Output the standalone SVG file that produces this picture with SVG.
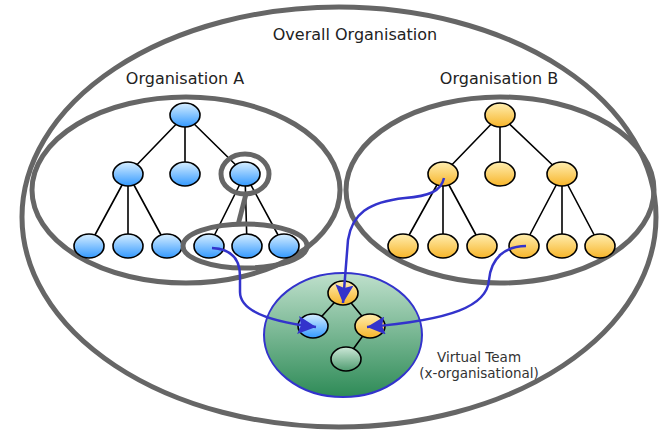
<svg xmlns="http://www.w3.org/2000/svg" width="659" height="431" viewBox="0 0 659 431">
<defs>
<linearGradient id="gB" x1="0" y1="0" x2="0" y2="1"><stop offset="0" stop-color="#d6eeff"/><stop offset="1" stop-color="#3399ff"/></linearGradient>
<linearGradient id="gO" x1="0" y1="0" x2="0" y2="1"><stop offset="0" stop-color="#ffeeb0"/><stop offset="1" stop-color="#f7b52a"/></linearGradient>
<linearGradient id="gG" x1="0" y1="0" x2="0" y2="1"><stop offset="0" stop-color="#cde8d8"/><stop offset="1" stop-color="#4f9c70"/></linearGradient>
<linearGradient id="gVT" x1="0" y1="0" x2="0" y2="1"><stop offset="0" stop-color="#bfe0cc"/><stop offset="1" stop-color="#2e8b57"/></linearGradient>
<marker id="arr" markerUnits="userSpaceOnUse" markerWidth="20" markerHeight="18" refX="18" refY="9" orient="auto"><path d="M0,0 L18,9 L0,18 L3,9 Z" fill="#3333cc"/></marker>
</defs>
<style>
.ring{fill:none;stroke:#666;stroke-width:5}
.edge{stroke:#000;stroke-width:1.6;fill:none}
.nb{fill:url(#gB);stroke:#000;stroke-width:1.6}
.no{fill:url(#gO);stroke:#000;stroke-width:1.6}
.ng{fill:url(#gG);stroke:#000;stroke-width:1.6}
.lbl{font-family:"DejaVu Sans","Verdana",sans-serif;font-size:16px;fill:#222;text-anchor:middle}
.sm{font-family:"DejaVu Sans","Verdana",sans-serif;font-size:13.5px;fill:#333;text-anchor:middle}
.conn{fill:none;stroke:#3333cc;stroke-width:2.5;marker-end:url(#arr)}
</style>
<g id="overall">
<ellipse class="ring" cx="339" cy="217" rx="317" ry="210" fill="#fff"/>
<text class="lbl" x="355" y="40">Overall Organisation</text>
</g>
<g id="orgA">
<ellipse class="ring" cx="186" cy="190" rx="154" ry="93"/>
<text class="lbl" x="185" y="84">Organisation A</text>
<path class="edge" d="M185,115 L128,174 M185,115 L185,174 M185,115 L245,174 M128,174 L89,246 M128,174 L128,246 M128,174 L167,246 M245,174 L209,246 M245,174 L247,246 M245,174 L284,246"/>
<ellipse class="nb" cx="185" cy="115" rx="15" ry="12"/>
<ellipse class="nb" cx="128" cy="174" rx="15" ry="12"/>
<ellipse class="nb" cx="185" cy="174" rx="15" ry="12"/>
<ellipse class="nb" cx="245" cy="174" rx="15" ry="12"/>
<ellipse class="nb" cx="89" cy="246" rx="15" ry="12"/>
<ellipse class="nb" cx="128" cy="246" rx="15" ry="12"/>
<ellipse class="nb" cx="167" cy="246" rx="15" ry="12"/>
<ellipse class="nb" cx="209" cy="246" rx="15" ry="12"/>
<ellipse class="nb" cx="247" cy="246" rx="15" ry="12"/>
<ellipse class="nb" cx="284" cy="246" rx="15" ry="12"/>
</g>
<g id="highlight">
<ellipse class="ring" cx="245" cy="174" rx="24" ry="20"/>
<ellipse class="ring" cx="245" cy="246" rx="62" ry="22"/>
<path d="M246,194 L238,225" stroke="#666" stroke-width="5" fill="none"/>
</g>
<g id="orgB">
<ellipse class="ring" cx="500" cy="190" rx="154" ry="93"/>
<text class="lbl" x="499" y="84">Organisation B</text>
<path class="edge" d="M500,115 L443,174 M500,115 L500,174 M500,115 L562,174 M443,174 L403,246 M443,174 L443,246 M443,174 L482,246 M562,174 L524,246 M562,174 L562,246 M562,174 L600,246"/>
<ellipse class="no" cx="500" cy="115" rx="15" ry="12"/>
<ellipse class="no" cx="443" cy="174" rx="15" ry="12"/>
<ellipse class="no" cx="500" cy="174" rx="15" ry="12"/>
<ellipse class="no" cx="562" cy="174" rx="15" ry="12"/>
<ellipse class="no" cx="403" cy="246" rx="15" ry="12"/>
<ellipse class="no" cx="443" cy="246" rx="15" ry="12"/>
<ellipse class="no" cx="482" cy="246" rx="15" ry="12"/>
<ellipse class="no" cx="524" cy="246" rx="15" ry="12"/>
<ellipse class="no" cx="562" cy="246" rx="15" ry="12"/>
<ellipse class="no" cx="600" cy="246" rx="15" ry="12"/>
</g>
<g id="virtualTeam">
<ellipse cx="343" cy="335" rx="79" ry="62" fill="url(#gVT)" stroke="#3333cc" stroke-width="2"/>
<path class="edge" d="M343,293 L313,326 M343,293 L370,326 M370,326 L346,359"/>
<ellipse class="no" cx="343" cy="293" rx="15" ry="12"/>
<ellipse class="nb" cx="313" cy="326" rx="15" ry="12"/>
<ellipse class="no" cx="370" cy="326" rx="15" ry="12"/>
<ellipse class="ng" cx="346" cy="359" rx="15" ry="12"/>
<text class="sm" x="479" y="362">Virtual Team</text>
<text class="sm" x="479" y="378">(x-organisational)</text>
</g>
<g id="connectors">
<path class="conn" d="M212,248 C232,249 240,259 240,276 L240,292 C240,312 272,322 316,327"/>
<path class="conn" d="M444,178 C441,192 428,196 405,198 C368,202 352,214 348,240 L343,303"/>
<path class="conn" d="M526,246 C505,246 491,258 489,280 C487,306 452,320 367,327"/>
</g>
</svg>
